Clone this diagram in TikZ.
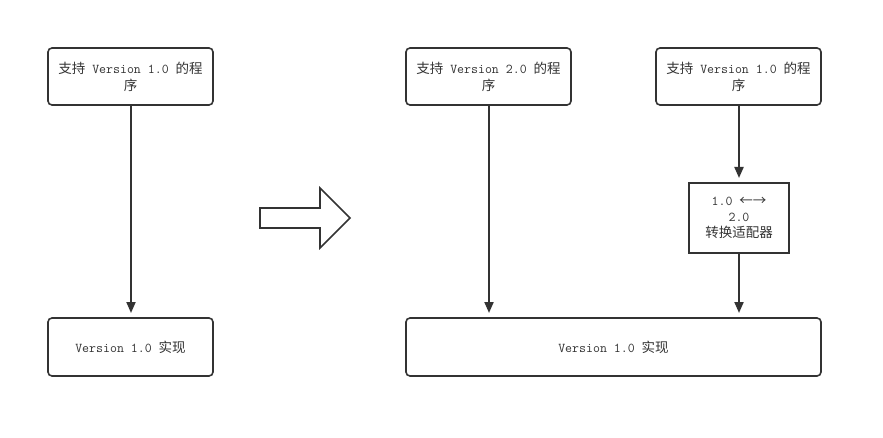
\documentclass[tikz,border=0pt]{standalone}
\usepackage{fontspec}
\newfontfamily\cjk{Noto Sans CJK SC}
\usetikzlibrary{arrows.meta}
\definecolor{ink}{HTML}{333333}
\tikzset{
  box/.style={draw=ink, line width=1.6pt, rounded corners=4pt, fill=white},
  sqbox/.style={draw=ink, line width=1.6pt, fill=white},
  lbl/.style={text=ink, align=center, font=\fontsize{13.5}{17}\selectfont\ttfamily},
  conn/.style={draw=ink, line width=2pt, -{Triangle[length=11pt,width=9pt]}, shorten >=5pt},
}
\begin{document}
\begin{tikzpicture}[x=1pt,y=-1pt]
\useasboundingbox[fill=white] (0,0) rectangle (883,438);
% boxes
\draw[box] (48,48) rectangle (213,105);
\node[lbl] (a) at (130.5,76.5) {{\cjk 支持} Version 1.0 {\cjk 的程}\\{\cjk 序}};
\coordinate (ab) at (131,105);
\draw[box] (48,318) rectangle (213,376);
\node[lbl] (b) at (130.5,347) {Version 1.0 {\cjk 实现}};
\coordinate (bt) at (131,318);

\draw[box] (406,48) rectangle (571,105);
\node[lbl] (c) at (488.5,76.5) {{\cjk 支持} Version 2.0 {\cjk 的程}\\{\cjk 序}};
\coordinate (cb) at (489,105);

\draw[box] (656,48) rectangle (821,105);
\node[lbl] (d) at (738.5,76.5) {{\cjk 支持} Version 1.0 {\cjk 的程}\\{\cjk 序}};
\coordinate (db) at (739,105);

\draw[sqbox] (689,183) rectangle (789,253);
\node[lbl, font=\fontsize{13.5}{16}\selectfont\ttfamily] (e) at (739,218) {1.0 {\cjk ←→}\\2.0\\{\cjk 转换适配器}};
\coordinate (et) at (739,183);
\coordinate (eb) at (739,253);

\draw[box] (406,318) rectangle (821,376);
\node[lbl] (f) at (613.5,347) {Version 1.0 {\cjk 实现}};
\coordinate (ft1) at (489,318);
\coordinate (ft2) at (739,318);

% connectors
\draw[conn] (ab) -- (bt);
\draw[conn] (cb) -- (ft1);
\draw[conn] (db) -- (et);
\draw[conn] (eb) -- (ft2);

% big arrow
\draw[draw=ink, line width=1.6pt, fill=white]
  (260,208) -- (320,208) -- (320,188) -- (350,218) -- (320,248) -- (320,228) -- (260,228) -- cycle;
\end{tikzpicture}
\end{document}
